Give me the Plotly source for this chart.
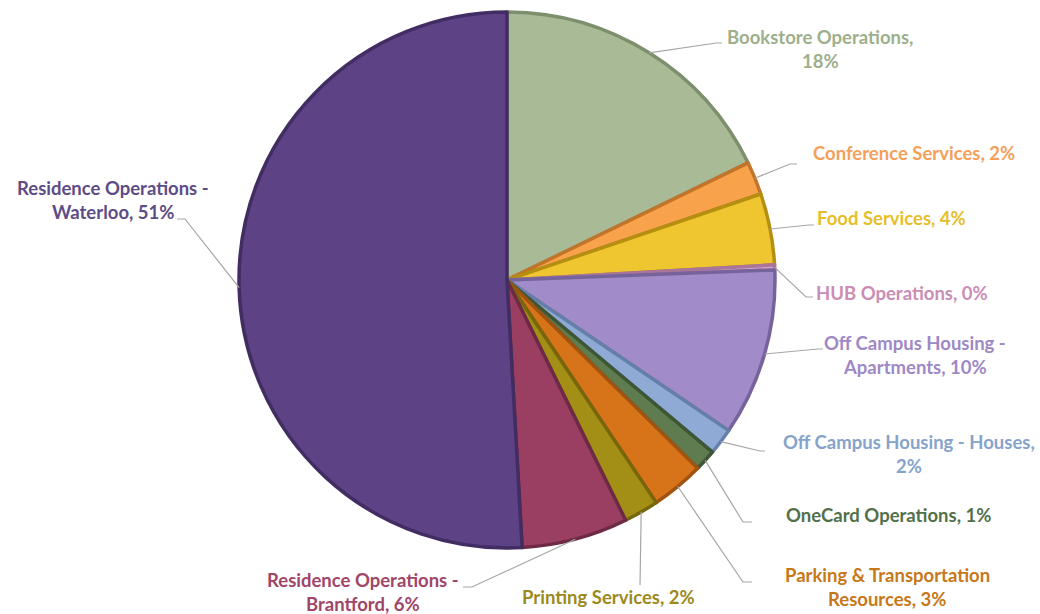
import math
import plotly.graph_objects as go

# ---- data -------------------------------------------------------------
names = [
    "Bookstore Operations",
    "Conference Services",
    "Food Services",
    "HUB Operations",
    "Off Campus Housing - Apartments",
    "Off Campus Housing - Houses",
    "OneCard Operations",
    "Parking & Transportation Resources",
    "Printing Services",
    "Residence Operations - Brantford",
    "Residence Operations - Waterloo",
]
values = [17.8, 2.0, 4.3, 0.3, 10.1, 1.6, 1.3, 3.2, 2.1, 6.4, 50.9]

fill_colors = [
    "#A9BA96", "#F9A24C", "#F0C630", "#D9A2C6", "#A18BC9", "#8EAAD5",
    "#5E7C50", "#D7741A", "#A38E16", "#9B3F62", "#5D4385",
]
edge_colors = [
    "#7E8F6E", "#C2742A", "#B48F10", "#A9759A", "#76639B", "#6580A8",
    "#3F5634", "#A05410", "#77660C", "#6E2A45", "#412D62",
]
text_colors = [
    "#9DB08B", "#F4A05A", "#E6BE2A", "#CB8DB5", "#9E88C6", "#86A3CC",
    "#52704A", "#C77818", "#9C8A1C", "#A04668", "#5E4C86",
]
# words kept on the first line of each label (None = single line)
first_line_words = [2, None, None, None, 4, 5, None, 3, None, 3, 3]

# ---- layout (pixels in a 1040 x 614 canvas) ---------------------------
W, H = 1040, 614
CX, CY, R = 507, 280, 268

# label text centre (x, y of first line) and leader elbow / end points
label_pos = [
    (820, 37), (914, 153), (891, 218), (902, 293), (915, 343), (909, 442),
    (888, 515), (887, 575), (608, 597), (363, 580), (113, 188),
]
leader_pts = [
    ((716, 43), (722, 43)),
    ((790, 164), (797, 164)),
    ((809, 225), (814, 225)),
    ((806, 297), (813, 297)),
    ((818, 349), (823, 349)),
    ((760, 451), (765, 451)),
    ((743, 522), (752, 522)),
    ((743, 582), (752, 582)),
    ((640, 585), (640, 585)),
    ((472, 587), (463, 587)),
    ((185, 219), (177, 219)),
]
LINE_GAP = 24
FONT = "Lato"
FONT_SIZE = 18.5

total = sum(values)
pcts = [round(v / total * 100) for v in values]

fig = go.Figure()

fig.add_trace(go.Pie(
    labels=names,
    values=values,
    sort=False,
    direction="clockwise",
    rotation=0,
    textinfo="none",
    hoverinfo="label+percent",
    marker=dict(colors=fill_colors, line=dict(color=edge_colors, width=3.5)),
    domain=dict(x=[(CX - R) / W, (CX + R) / W],
                y=[1 - (CY + R) / H, 1 - (CY - R) / H]),
    showlegend=False,
))

# invisible pixel-space axes for leader lines and labels
fig.add_trace(go.Scatter(x=[0, W], y=[0, H], mode="markers",
                         marker=dict(opacity=0), hoverinfo="skip",
                         showlegend=False))

shapes = []
annotations = []
cum = 0.0
for i, name in enumerate(names):
    mid = (cum + values[i] / 2) / total
    cum += values[i]
    ang = 2 * math.pi * mid
    sx = CX + R * math.sin(ang)
    sy = CY - R * math.cos(ang)
    (ex, ey), (fx, fy) = leader_pts[i]
    shapes.append(dict(
        type="path", xref="x", yref="y",
        path=f"M {sx:.1f} {sy:.1f} L {ex} {ey} L {fx} {fy}",
        line=dict(color="#A6A6A6", width=1.2),
    ))

    text = f"{name}, {pcts[i]}%"
    words = text.split(" ")
    n = first_line_words[i]
    lines = [text] if n is None else [" ".join(words[:n]), " ".join(words[n:])]
    lx, ly = label_pos[i]
    for k, ln in enumerate(lines):
        annotations.append(dict(
            x=lx, y=ly + k * LINE_GAP, xref="x", yref="y",
            text=f"<b>{ln}</b>", showarrow=False,
            xanchor="center", yanchor="middle",
            font=dict(family=FONT, size=FONT_SIZE, color=text_colors[i]),
        ))

fig.update_layout(
    width=W, height=H,
    margin=dict(l=0, r=0, t=0, b=0),
    paper_bgcolor="white", plot_bgcolor="white",
    xaxis=dict(range=[0, W], visible=False, fixedrange=True),
    yaxis=dict(range=[H, 0], visible=False, fixedrange=True),
    shapes=shapes,
    annotations=annotations,
)

fig.write_html("out.html")
